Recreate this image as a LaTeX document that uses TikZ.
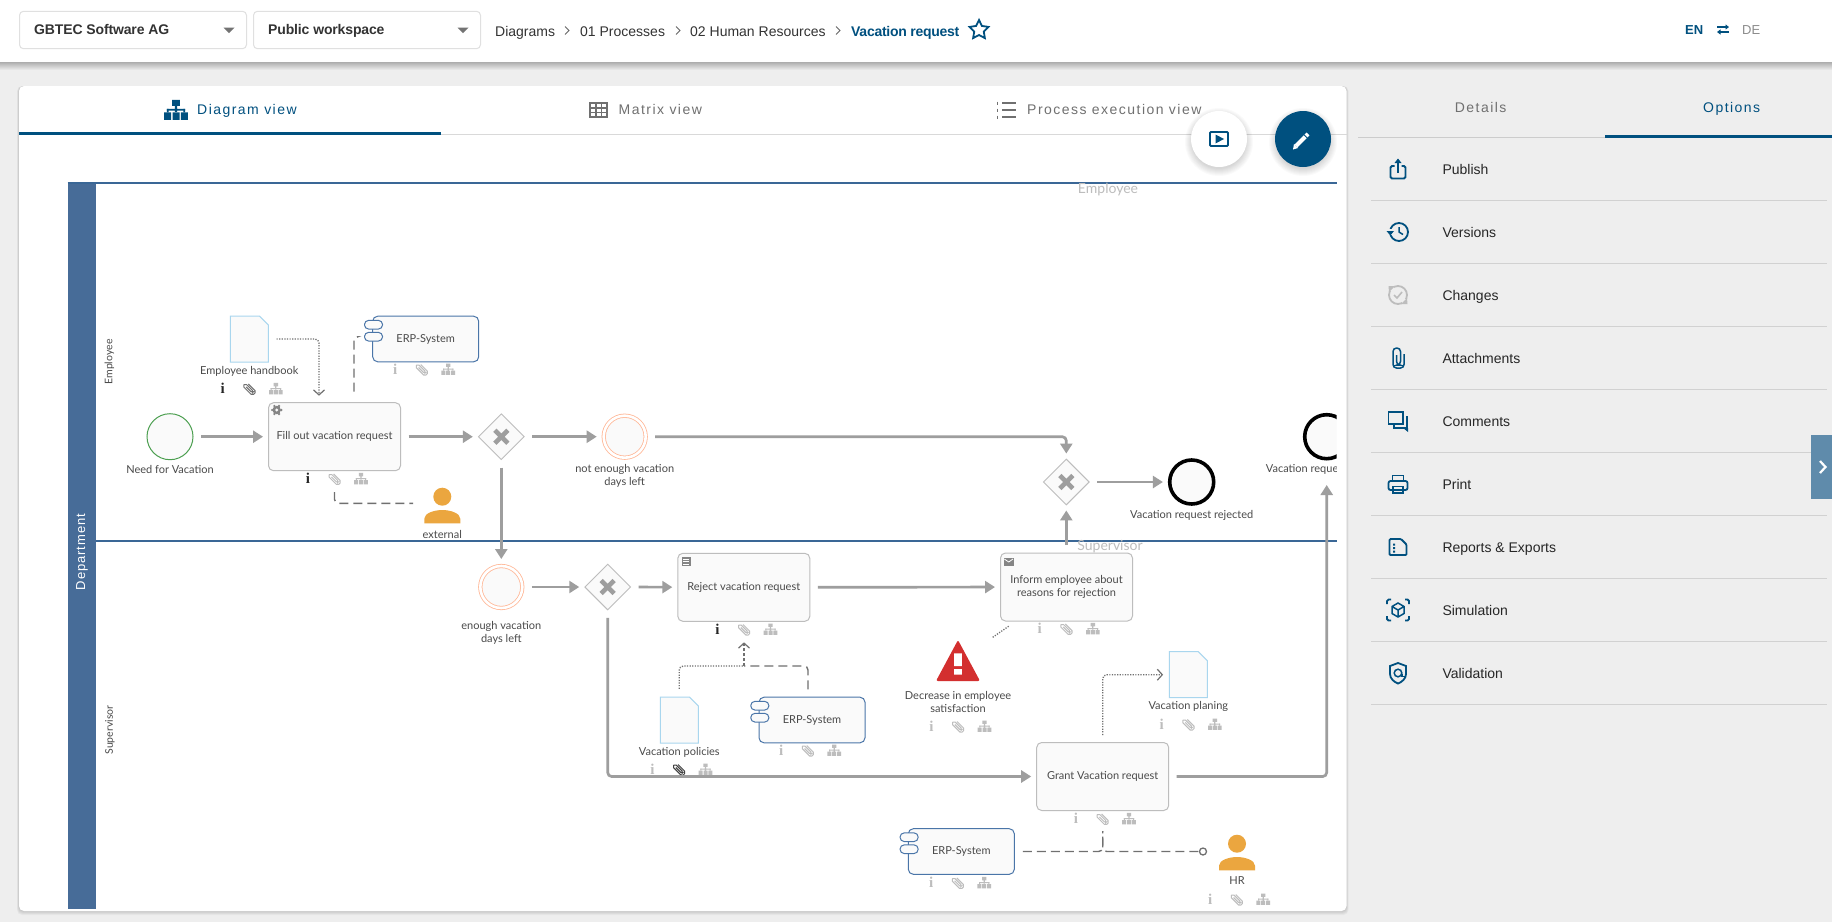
\documentclass[tikz,border=0pt]{standalone}
\usepackage{fontspec}
\setmainfont{Liberation Sans}
\newfontfamily\diafont{Lato}
\newfontfamily\tabfont[LetterSpace=10.5]{Liberation Sans}
\newfontfamily\infofont{Liberation Serif}
\usetikzlibrary{arrows.meta,calc,positioning,shapes.geometric,shapes.misc}

\definecolor{brand}{HTML}{00507F}
\definecolor{pagebg}{HTML}{EEEEEE}
\definecolor{poolblue}{HTML}{476C98}
\definecolor{laneblue}{HTML}{3A6796}
\definecolor{flowgrey}{HTML}{9E9E9E}
\definecolor{assocgrey}{HTML}{707070}
\definecolor{softgrey}{HTML}{BDBDBD}
\definecolor{elemfill}{HTML}{FAFAFA}
\definecolor{diatext}{HTML}{4A4A4A}
\definecolor{docblue}{HTML}{A9D6EE}
\definecolor{erpblue}{HTML}{4A75A8}
\definecolor{evorange}{HTML}{FFB796}
\definecolor{evgreen}{HTML}{4C9F50}
\definecolor{personfill}{HTML}{EBA63F}
\definecolor{warnred}{HTML}{D32F2F}
\definecolor{handleblue}{HTML}{5F8BAB}

\tikzset{
  lbl/.style={font=\diafont\fontsize{11}{13}\selectfont,text=diatext,align=center,inner sep=0pt},
  task/.style={draw=softgrey,fill=elemfill,line width=1pt,rounded corners=5pt,minimum width=132pt,minimum height=68pt,
    inner sep=0pt,align=center,font=\diafont\fontsize{11}{13}\selectfont,text=diatext},
  event/.style={circle,draw,fill=elemfill,inner sep=0pt,minimum size=46pt},
  midevent/.style={circle,draw=evorange,fill=elemfill,inner sep=0pt,minimum size=42pt,line width=.8pt,double=white,double distance=2.6pt,outer sep=2pt},
  gateway/.style={diamond,aspect=1,draw=softgrey,fill=elemfill,line width=.9pt,inner sep=0pt,minimum width=46pt,minimum height=46pt},
  docbox/.style={inner sep=0pt,minimum width=38pt,minimum height=46pt},
  erpbox/.style={draw=erpblue,fill=elemfill,line width=1pt,rounded corners=5pt,minimum width=106pt,minimum height=45.6pt,
    inner sep=0pt,font=\diafont\fontsize{11}{13}\selectfont,text=diatext},
  pillbox/.style={draw=erpblue,fill=elemfill,line width=1pt,rounded corners=4pt,minimum width=18pt,minimum height=8.6pt,inner sep=0pt},
  flow/.style={draw=flowgrey,line width=2.7pt,rounded corners=4pt,-{Triangle[length=10pt,width=12pt]},shorten <=7.5pt,shorten >=5pt},
  assoc/.style={draw=assocgrey,line width=1.4pt,rounded corners=4pt,dash pattern=on 9pt off 5pt},
  dotline/.style={draw=assocgrey,line width=1.3pt,rounded corners=4pt,dash pattern=on 1.2pt off 1.4pt},
  barb/.style={-{Straight Barb[length=5pt,width=11pt,line width=1.2pt]}},
  menutxt/.style={anchor=west,inner sep=0pt,font=\fontsize{14}{16}\selectfont,text=black!85,text height=10pt,text depth=0pt},
  menuicon/.style={draw=brand,line width=1.8pt},
  crumb/.style={anchor=west,inner sep=0pt,font=\fontsize{14}{16}\selectfont,text=black!80,text height=10pt,text depth=0pt},
  tabtxt/.style={inner sep=0pt,font=\tabfont\fontsize{14}{16}\selectfont,text height=10pt,text depth=0pt},
  selectbox/.style={draw=black!12,fill=white,line width=1pt,rounded corners=4pt,minimum width=227pt,minimum height=37.4pt,inner sep=0pt},
}

% small grey icons below the elements
\newcommand{\treeicon}[4]{\begin{scope}[shift={(#1,#2)},scale=#4]
  \fill[#3] (-2.2,-5.8) rectangle (2.2,-2.4) (-.6,-2.4) rectangle (.6,1) (-5.2,-.6) rectangle (5.2,.4)
    (-6.8,1.4) rectangle (-2.8,5.6) (-2,1.4) rectangle (2,5.6) (2.8,1.4) rectangle (6.8,5.6);
  \fill[#3] (-5.2,-.6) rectangle (-4.2,1.4) (4.2,-.6) rectangle (5.2,1.4);
\end{scope}}
\newcommand{\clipicon}[4]{\begin{scope}[shift={(#1,#2)},rotate=#3]
  \draw[#4,line width=1pt,rounded corners=1.6pt] (-3.5,.9) -- (5,.9) -- (5,-1) -- (-6.5,-1) -- (-6.5,2.7) -- (7,2.7) -- (7,-2.7) -- (-4,-2.7);
\end{scope}}
\newcommand{\iconrow}[4]{% centre x, y, colour of i, colour of the clip
  \node[inner sep=0pt,font=\infofont\bfseries\fontsize{15}{15}\selectfont,text=#3] at ($(#1,#2)+(-26.5,0)$) {i};
  \clipicon{#1}{#2}{-45}{#4}
  \treeicon{#1+26.5}{#2}{softgrey}{1}
}
\newcommand{\person}[3]{% name, head x, head y
  \node[circle,fill=personfill,minimum size=18pt,inner sep=0pt] (#1) at (#2,#3) {};
  \fill[personfill,shift={(#2,#3)}] (-18,26.7) -- (-18,22) .. controls (-18,16.5) and (-8,13.3) .. (0,13.3)
    .. controls (8,13.3) and (18,16.5) .. (18,22) -- (18,26.7) -- cycle;
}
\newcommand{\erpnode}[4]{% name, x, y, text
  \node[erpbox] (#1) at (#2,#3) {#4};
  \node[pillbox] (#1 pa) at ($(#1.north west)+(1.3,9)$) {};
  \node[pillbox] (#1 pb) at ($(#1.north west)+(1.3,21)$) {};
}
\newcommand{\docnode}[3]{% name, x, y
  \node[docbox] (#1) at (#2,#3) {};
  \filldraw[draw=docblue,fill=elemfill,line width=1pt,shift={(#2,#3)}] (-19,-23) -- (10,-23) -- (19,-14) -- (19,23) -- (-19,23) -- cycle;
}
\newcommand{\gatex}[1]{\draw[flowgrey,line width=4.6pt] ($(#1.center)+(-6.5,-6.5)$) -- ($(#1.center)+(6.5,6.5)$)
  ($(#1.center)+(-6.5,6.5)$) -- ($(#1.center)+(6.5,-6.5)$);}
\newcommand{\softshadow}[3]{\foreach \r in {1,...,8} \fill[black,opacity=.018] (#1,#2+3) circle (#3-2+\r);}

\begin{document}
\begin{tikzpicture}[x=1pt,y=-1pt]
  \useasboundingbox (0,0) rectangle (1832,922);
  \fill[pagebg] (0,0) rectangle (1832,922);

  % top bar
  \shade[top color=black!32,bottom color=pagebg] (0,62) rectangle (1832,70);
  \fill[white] (0,0) rectangle (1832,62);
  \node[selectbox] (company) at (133,30) {};
  \node[selectbox] (workspace) at (367,30) {};
  \node[crumb,font=\fontsize{14}{16}\selectfont\bfseries,text=black!80] (companytxt) at (34,29) {\addfontfeatures{LetterSpace=-1}GBTEC Software AG};
  \node[crumb,font=\fontsize{14}{16}\selectfont\bfseries,text=black!80] (workspacetxt) at (268,29) {\addfontfeatures{LetterSpace=-1}Public workspace};
  \foreach \x in {229,463}
    \fill[black!55] (\x-5.5,27.5) -- (\x+5.5,27.5) -- (\x,33) -- cycle;
  \node[crumb] (cdiagrams) at (495,31) {Diagrams};
  \node[crumb] (cprocesses) at (580,31) {01 Processes};
  \node[crumb] (chr) at (690,31) {02 Human Resources};
  \node[crumb,font=\fontsize{14}{16}\selectfont\bfseries,text=brand] (cvacation) at (851,31) {\addfontfeatures{LetterSpace=-2}Vacation request};
  \foreach \x in {567,678,838}
    \draw[black!60,line width=.9pt] (\x-2,26.5) -- (\x+2,30.5) -- (\x-2,34.5);
  \node[star,star points=5,star point ratio=2,draw=brand,line width=1.8pt,inner sep=0pt,minimum size=20pt] (favstar) at (979,30) {};
  \node[crumb,font=\fontsize{13}{16}\selectfont\bfseries,text=brand] (langen) at (1685,29) {EN};
  \node[crumb,font=\fontsize{13}{16}\selectfont,text=black!45] (langde) at (1742,29) {DE};
  \draw[brand,line width=1.4pt,-{Triangle[length=3.5pt,width=5pt]}] (1717,27) -- (1729,27);
  \draw[brand,line width=1.4pt,-{Triangle[length=3.5pt,width=5pt]}] (1729,32) -- (1717,32);

  % card with the tabs
  \foreach \r in {1,...,5}
    \fill[black,opacity=.03,rounded corners=5pt] (19-\r*.4,86) rectangle (1346.5+\r*.4,911+\r*.8);
  \fill[white,rounded corners=5pt] (19,86) rectangle (1346.5,911);
  \draw[black!15,line width=1pt] (19,134.5) -- (1346.5,134.5);
  \draw[brand,line width=2.2pt] (19,133.5) -- (441,133.5);
  \treeicon{176}{110}{brand}{1.75}
  \node[tabtxt,text=brand,anchor=west] (tabdiagram) at (197,109) {Diagram view};
  \draw[assocgrey,line width=1.4pt] (590,103) rectangle (607,117) (590,108) -- (607,108) (590,112.5) -- (607,112.5) (596,103) -- (596,117) (601.5,103) -- (601.5,117);
  \node[tabtxt,text=assocgrey,anchor=west] (tabmatrix) at (618.5,109) {Matrix view};
  \foreach \yy in {103,110,117} {
    \draw[assocgrey,line width=1.4pt] (1002,\yy) -- (1016,\yy);
    \draw[assocgrey,line width=1pt] (997,\yy-1.5) -- (997,\yy+1.5);
  }
  \node[tabtxt,text=assocgrey,anchor=west] (tabprocess) at (1027,109) {Process execution view};

  % pool and lanes
  \fill[poolblue] (67.5,183) rectangle (95.7,909);
  \draw[laneblue,line width=1.2pt] (67.5,183) -- (1336.7,183);
  \draw[laneblue,line width=1.2pt] (95.7,541) -- (1336.7,541);
  \node[rotate=90,inner sep=0pt,text=white,font=\fontsize{13}{15}\selectfont] (pooltxt) at (82,552) {\addfontfeatures{LetterSpace=7}Department};
  \node[lbl,rotate=90,font=\diafont\fontsize{10.5}{12}\selectfont] (laneemp) at (109.5,362) {Employee};
  \node[lbl,rotate=90,font=\diafont\fontsize{10.5}{12}\selectfont] (lanesup) at (110,730) {Supervisor};
  \node[lbl,text=softgrey,font=\diafont\fontsize{14}{15}\selectfont] (empname) at (1108,190) {Employee};
  \node[lbl,text=softgrey,font=\diafont\fontsize{14}{15}\selectfont] (supname) at (1110,547) {Supervisor};

  % events and gateways
  \node[event,draw=evgreen,line width=1pt] (start) at (170,436.7) {};
  \node[lbl] (startlbl) [below of=start,node distance=32.3pt] {Need for Vacation};
  \node[gateway] (gwa) at (501.3,436.7) {};
  \node[midevent] (evno) at (624.7,436.7) {};
  \node[lbl] (evnolbl) [below of=evno,node distance=39.3pt] {not enough vacation\\days left};
  \node[gateway] (gwb) at (1066.3,482) {};
  \node[event,draw=black,line width=3.6pt,minimum size=44pt] (enda) at (1191.7,482) {};
  \node[lbl] (endalbl) [below of=enda,node distance=33pt] {Vacation request rejected};
  \node[midevent] (evok) at (501.3,587) {};
  \node[lbl] (evoklbl) [below of=evok,node distance=45.5pt] {enough vacation\\days left};
  \node[gateway] (gwc) at (607.7,587) {};
  \gatex{gwa} \gatex{gwb} \gatex{gwc}
  \begin{scope}
    \clip (1200,400) rectangle (1336.7,500);
    \node[event,draw=black,line width=3.6pt,minimum size=44pt] (endb) at (1326.7,436.7) {};
    \node[lbl,anchor=west] (endblbl) at (1265.7,469) {Vacation request};
  \end{scope}

  % tasks
  \node[task] (fill) at (334.5,436.7) {Fill out vacation request};
  \node[task] (reject) at (743.8,587.3) {Reject vacation request};
  \node[task] (inform) at (1066.5,587) {Inform employee about\\reasons for rejection};
  \node[task] (grant) at (1102.7,776.5) {Grant Vacation request};
  % task markers
  \foreach \a in {0,60,...,300}
    \fill[assocgrey!85] ($(276.7,410)+(\a:4.6)$) circle (1.3);
  \fill[assocgrey!85] (276.7,410) circle (4.2);
  \fill[elemfill] (276.7,410) circle (1.6);
  \fill[assocgrey!85] (681.5,557.2) rectangle (690.5,566.2);
  \draw[white,line width=.7pt] (683,559.5) -- (689,559.5) (683,561.7) -- (689,561.7) (683,563.9) -- (689,563.9);
  \fill[assocgrey!85] (1004,558) rectangle (1013.5,565.5);
  \draw[white,line width=.8pt] (1004.4,559) -- (1008.7,562) -- (1013,559);

  % documents
  \docnode{handbook}{249.3}{339}
  \node[lbl] (handbooklbl) [below of=handbook,node distance=32pt] {Employee handbook};
  \docnode{policies}{679.3}{720}
  \node[lbl] (policieslbl) [below of=policies,node distance=32.3pt] {Vacation policies};
  \docnode{planing}{1188.3}{674.7}
  \node[lbl] (planinglbl) [below of=planing,node distance=31.3pt] {Vacation planing};

  % systems
  \erpnode{erpa}{425.7}{339}{ERP-System}
  \erpnode{erpb}{812}{720}{ERP-System}
  \erpnode{erpc}{961.3}{851.5}{ERP-System}

  % people and the warning
  \person{extern}{442.3}{496.7}
  \node[lbl] (externlbl) [below of=extern,node distance=37.3pt] {external};
  \person{hr}{1237}{843.7}
  \node[lbl] (hrlbl) [below of=hr,node distance=37.3pt] {HR};
  \fill[warnred,rounded corners=2pt] (958,640) -- (980,681) -- (936,681) -- cycle;
  \fill[white] (954.2,653.3) rectangle (961.8,666) (954.2,669) rectangle (961.8,674.7);
  \node[lbl] (warnlbl) at (958,701.5) {Decrease in employee\\satisfaction};

  % icon rows
  \iconrow{249.3}{388.7}{black!85}{assocgrey}
  \iconrow{334.5}{478.7}{black!85}{softgrey}
  \iconrow{421.7}{369.3}{softgrey}{softgrey}
  \iconrow{744}{629.3}{black!85}{softgrey}
  \iconrow{1066.3}{628.7}{softgrey}{softgrey}
  \iconrow{679}{769.3}{softgrey}{black!75}
  \iconrow{807.7}{750.3}{softgrey}{softgrey}
  \iconrow{958}{726.3}{softgrey}{softgrey}
  \iconrow{1188.3}{724.3}{softgrey}{softgrey}
  \iconrow{1102.5}{818.7}{softgrey}{softgrey}
  \iconrow{957.7}{882.7}{softgrey}{softgrey}
  \iconrow{1236.7}{899.3}{softgrey}{softgrey}

  % flows
  \draw[flow] (start) -- (fill);
  \draw[flow] (fill) -- (gwa);
  \draw[flow] (gwa) -- (evno);
  \draw[flow] (gwa) -- (evok);
  \draw[flow] (evno) -| (gwb);
  \draw[flow] (gwb) -- (enda);
  \draw[flow] (inform.north -| gwb) -- (gwb);
  \draw[flow] (evok) -- (gwc);
  \draw[flow] (gwc) -- (reject);
  \draw[flow] (reject) -- (inform);
  \draw[flow] (gwc) |- (grant);
  \draw[flow,shorten >=24.5pt] (grant) -| (endb);

  % associations
  \coordinate (fillin) at (319,402.7);
  \coordinate (fillerp) at (354,402.7);
  \coordinate (externin) at (424,503.3);
  \coordinate (rejectin) at (744,621.3);
  \coordinate (rejectjoin) at (744,666);
  \coordinate (erpbtop) at (808,697.3);
  \coordinate (warnout) at (992.7,637.3);
  \coordinate (informin) at (1009,626);
  \node[circle,draw=assocgrey,line width=1.3pt,minimum size=7pt,inner sep=0pt] (hrdot) at (1203,851.5) {};
  \draw[dotline,barb,shorten <=8pt,shorten >=7pt] (handbook) -| (fillin);
  \draw[assoc,shorten <=11pt,shorten >=7pt] (fillerp) |- (erpa pb);
  \draw[assoc,shorten <=21pt,shorten >=11pt] (fill.south) |- (externin);
  \draw[dotline,shorten <=8pt] (policies) |- (rejectjoin);
  \draw[assoc,shorten <=8pt] (erpbtop) |- (rejectjoin);
  \draw[assoc,dash pattern=on 3pt off 2pt,barb,shorten >=21pt] (rejectjoin) -- (rejectin);
  \draw[dotline] (warnout) -- (informin);
  \draw[dotline,barb,shorten <=7pt,shorten >=6pt] (grant.north) |- (planing);
  \draw[assoc,shorten <=8pt,shorten >=20pt] (erpc) -| (grant.south);
  \draw[assoc,shorten <=.5pt,shorten >=20pt] (hrdot) -| (grant.south);

  % floating buttons
  \softshadow{1219}{139}{28}
  \softshadow{1303}{139}{28}
  \node[circle,fill=white,minimum size=56pt,inner sep=0pt] (playbtn) at (1219,139) {};
  \node[circle,fill=brand,minimum size=56pt,inner sep=0pt] (editbtn) at (1303,139) {};
  \draw[brand,line width=1.8pt,rounded corners=1pt] (1210,132) rectangle (1228,146);
  \fill[brand] (1215.5,134.5) -- (1224,139) -- (1215.5,143.5) -- cycle;
  \draw[white,line width=4pt] (1296,146) -- (1308,134);
  \fill[white] (1293,149.5) -- (1294,144) -- (1298,148) -- cycle;
  \draw[brand,line width=.8pt] (1304,134.7) -- (1307.5,138.2);

  % options panel
  \draw[black!20,line width=1pt] (1358,137.5) -- (1832,137.5);
  \draw[brand,line width=2.2pt] (1605,136.5) -- (1832,136.5);
  \node[tabtxt,text=assocgrey] (tabdetails) at (1480.7,107) {Details};
  \node[tabtxt,text=brand] (taboptions) at (1731.7,107) {Options};
  \foreach \yy/\txt in {169/Publish,232/Versions,295/Changes,358/Attachments,421/Comments,484/Print,547/Reports \& Exports,610/Simulation,673/Validation} {
    \node[menutxt] (menu\yy) at (1442.3,\yy) {\txt};
    \draw[black!18,line width=1pt] (1371,\yy+31.4) -- (1826.7,\yy+31.4);
  }
  \begin{scope}[shift={(1398,169)}]
    \draw[menuicon,rounded corners=1.5pt] (-3.5,-3) -- (-7.5,-3) -- (-7.5,9.5) -- (7.5,9.5) -- (7.5,-3) -- (3.5,-3);
    \draw[menuicon] (0,4) -- (0,-7);
    \fill[brand] (-3.5,-6) -- (0,-10.5) -- (3.5,-6) -- cycle;
  \end{scope}
  \begin{scope}[shift={(1398,232)}]
    \draw[menuicon] (1,0) circle (9);
    \fill[pagebg] (-10,-3) rectangle (-5,3);
    \fill[brand] (-11.5,-1) -- (-4,-1) -- (-7.7,3.5) -- cycle;
    \draw[menuicon,line width=1.5pt] (1,-5) -- (1,0) -- (5,2.5);
  \end{scope}
  \begin{scope}[shift={(1398,295)}]
    \draw[softgrey,line width=1.8pt] (0,0) circle (9);
    \fill[pagebg] (-10,-10) rectangle (-4,-4) (10,10) rectangle (4,4);
    \draw[softgrey,line width=1.6pt] (-4,0) -- (-1,3) -- (4,-3);
    \fill[softgrey] (-9.5,-9) -- (-3,-9) -- (-9,-3) -- cycle (9.5,9) -- (3,9) -- (9,3) -- cycle;
  \end{scope}
  \begin{scope}[shift={(1398.5,358)}]
    \draw[menuicon,line width=1.5pt,rounded corners=3.5pt] (-2,-3) -- (-2,7) -- (2,7) -- (2,-10) -- (-5.5,-10) -- (-5.5,10) -- (5.5,10) -- (5.5,-4);
  \end{scope}
  \begin{scope}[shift={(1398,421)}]
    \draw[menuicon] (-9.5,-9) rectangle (5,3);
    \draw[menuicon] (-4,3) -- (-4,7) -- (7.5,7);
    \draw[menuicon] (9,-5) -- (9,9);
    \fill[brand] (5,7) -- (10,7) -- (10,11) -- cycle;
  \end{scope}
  \begin{scope}[shift={(1398,484)}]
    \draw[menuicon,rounded corners=2pt] (-5,-3) -- (-9.5,-3) -- (-9.5,6) -- (9.5,6) -- (9.5,-3) -- cycle;
    \draw[menuicon] (-5.5,-3) -- (-5.5,-8.5) -- (5.5,-8.5) -- (5.5,-3);
    \draw[menuicon] (-5,2.5) rectangle (5,9);
  \end{scope}
  \begin{scope}[shift={(1398,547)}]
    \draw[menuicon,rounded corners=1pt] (-8.5,-8) -- (3,-8) -- (8.5,-2.5) -- (8.5,8) -- (-8.5,8) -- cycle;
    \fill[brand] (-5,-3.5) rectangle (-3,-1.5) (-5,0) rectangle (-3,2) (-5,3.5) rectangle (-3,5.5);
  \end{scope}
  \begin{scope}[shift={(1398,610)}]
    \draw[menuicon,rounded corners=1.5pt] (-11,-6) -- (-11,-10.5) -- (-7,-10.5) (7,-10.5) -- (11,-10.5) -- (11,-6)
      (11,6) -- (11,10.5) -- (7,10.5) (-7,10.5) -- (-11,10.5) -- (-11,6);
    \draw[menuicon,line width=1.5pt] (0,-7) -- (6,-3.5) -- (6,3.5) -- (0,7) -- (-6,3.5) -- (-6,-3.5) -- cycle
      (-6,-3.5) -- (0,0) -- (6,-3.5) (0,0) -- (0,7);
  \end{scope}
  \begin{scope}[shift={(1398,673)}]
    \draw[menuicon] (0,-10) -- (8,-7) -- (8,1) .. controls (8,5.5) and (4,9) .. (0,10.5) .. controls (-4,9) and (-8,5.5) .. (-8,1) -- (-8,-7) -- cycle;
    \draw[menuicon,line width=1.5pt] (0,0) circle (3.8);
    \draw[menuicon,line width=1.5pt] (3.8,1) -- (3.8,3.5) -- (7,3.5);
  \end{scope}
  \fill[handleblue] (1811,435) rectangle (1832,499);
  \draw[white,line width=2.2pt] (1820,461) -- (1825.5,467) -- (1820,473);
\end{tikzpicture}
\end{document}
